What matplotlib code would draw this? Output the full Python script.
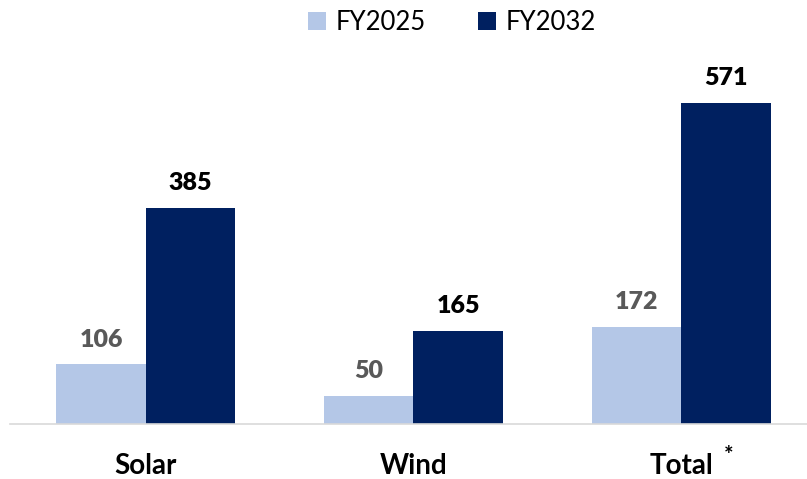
import matplotlib
matplotlib.use("Agg")
import matplotlib.pyplot as plt
from matplotlib.patches import Patch
import numpy as np

categories = ["Solar", "Wind", "Total"]
series_names = ["FY2025", "FY2032"]
fy2025 = [106, 50, 172]
fy2032 = [385, 165, 571]
footnote_cat = "Total"

c_light = "#B4C7E7"
c_dark = "#002060"
FONT = ["Lato", "DejaVu Sans"]
plt.rcParams["font.family"] = FONT

W, H = 807, 479
fig = plt.figure(figsize=(W / 100, H / 100), dpi=100)
base_px = 424
top_px = 60
ax = fig.add_axes([10 / W, (H - base_px) / H, 1 - 10 / W, (base_px - top_px) / H])

x = np.arange(len(categories))
bw = 0.334
b1 = ax.bar(x - bw / 2, fy2025, bw, color=c_light)
b2 = ax.bar(x + bw / 2, fy2032, bw, color=c_dark)

scale = (base_px - 103) / max(fy2032)  # px per unit
ax.set_ylim(0, (base_px - top_px) / scale)
ax.set_xlim(-0.507, 2.47)

for rect, v in zip(b1, fy2025):
    ax.annotate(f"{v}", (rect.get_x() + rect.get_width() / 2, v), xytext=(0, 10),
                textcoords="offset points", ha="center", va="bottom",
                fontsize=18, fontweight="heavy", color="#595959")
for rect, v in zip(b2, fy2032):
    ax.annotate(f"{v}", (rect.get_x() + rect.get_width() / 2, v), xytext=(0, 10),
                textcoords="offset points", ha="center", va="bottom",
                fontsize=18, fontweight="heavy", color="#000000")

for s in ["top", "right", "left"]:
    ax.spines[s].set_visible(False)
ax.spines["bottom"].set_color("#D9D9D9")
ax.spines["bottom"].set_linewidth(1.2)
ax.set_yticks([])
ax.set_xticks(x)
ax.set_xticklabels(categories, fontsize=20, fontweight="bold", color="black")
ax.tick_params(axis="x", length=0, pad=21)

i = categories.index(footnote_cat)
ax.annotate("*", (x[i], 0), xytext=(34, -23), textcoords="offset points",
            ha="center", va="center", fontsize=16, fontweight="bold", color="black")

handles = [Patch(facecolor=c_light, label=series_names[0]),
           Patch(facecolor=c_dark, label=series_names[1])]
fig.legend(handles=handles, loc="center", bbox_to_anchor=(452 / W, 1 - 22 / H),
           ncol=2, frameon=False, fontsize=18.5, handlelength=0.7, handleheight=0.7,
           handletextpad=0.4, columnspacing=2.0)

fig.savefig("out.png", dpi=100)
